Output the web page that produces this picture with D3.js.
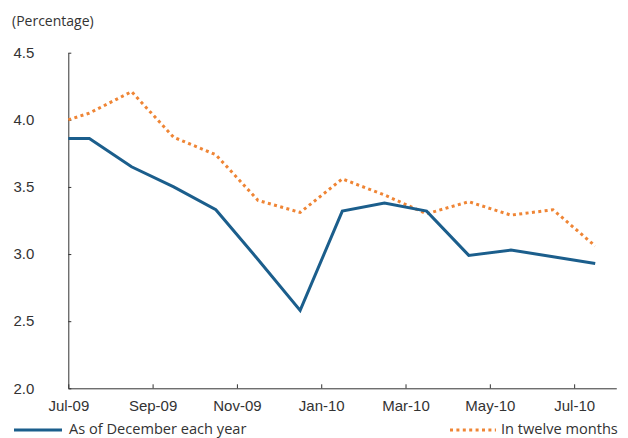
<!DOCTYPE html>
<html lang="en">
<head>
    <meta charset="UTF-8">
    <title>Inflation expectations</title>
    <script src="https://d3js.org/d3.v7.min.js"></script>
    <style>
        body { margin: 0; background: #fff; }
        svg { display: block; font-family: "Open Sans", sans-serif; }
        .axis text { font-size: 15px; fill: #333; }
        .axis path, .axis line { stroke: #333; }
    </style>
</head>
<body>
<svg width="628" height="438"></svg>
<script>
    // month labels (month index 0 = Jul-09), only every second one is shown
    const months = ["Jul-09", "Aug-09", "Sep-09", "Oct-09", "Nov-09", "Dec-09", "Jan-10",
                    "Feb-10", "Mar-10", "Apr-10", "May-10", "Jun-10", "Jul-10", "Aug-10"];
    const tickMonths = [0, 2, 4, 6, 8, 10, 12];
    const yTicks = [2.0, 2.5, 3.0, 3.5, 4.0, 4.5];

    // survey dates, as month offsets from the start of Jul-09
    const surveyMonth = [0, 0.5, 1.5, 2.5, 3.5, 4.5, 5.5, 6.5, 7.5, 8.5, 9.5, 10.5, 11.5, 12.5];
    const asOfDecember = [3.86, 3.86, 3.65, 3.50, 3.33, 2.96, 2.58, 3.32, 3.38, 3.32, 2.99, 3.03, 2.98, 2.93];
    const inTwelveMonths = [4.00, 4.05, 4.21, 3.87, 3.74, 3.40, 3.31, 3.56, 3.44, 3.30, 3.39, 3.29, 3.33, 3.06];

    const svg = d3.select("svg");

    const x = d3.scaleLinear().domain([0, 13]).range([68.3, 616.3]);
    const y = d3.scaleLinear().domain([2, 4.5]).range([388.3, 52.7]);

    svg.append("text")
        .attr("x", 12)
        .attr("y", 26)
        .attr("font-size", 14)
        .attr("fill", "#333")
        .text("(Percentage)");

    svg.append("g")
        .attr("class", "axis")
        .attr("transform", "translate(0," + y(2) + ")")
        .call(d3.axisBottom(x)
            .tickValues(tickMonths)
            .tickFormat(i => months[i])
            .tickSizeInner(-4)
            .tickSizeOuter(0)
            .tickPadding(12));

    svg.append("g")
        .attr("class", "axis")
        .attr("transform", "translate(" + x(0) + ",0)")
        .call(d3.axisLeft(y)
            .tickValues(yTicks)
            .tickFormat(d3.format(".1f"))
            .tickSizeInner(-3)
            .tickSizeOuter(0)
            .tickPadding(34));

    const line = d3.line()
        .x(d => x(d[0]))
        .y(d => y(d[1]));

    svg.append("path")
        .datum(d3.zip(surveyMonth, inTwelveMonths))
        .attr("fill", "none")
        .attr("stroke", "#ef8535")
        .attr("stroke-width", 3)
        .attr("stroke-dasharray", "3,3.4")
        .attr("d", line);

    svg.append("path")
        .datum(d3.zip(surveyMonth, asOfDecember))
        .attr("fill", "none")
        .attr("stroke", "#1b5e8c")
        .attr("stroke-width", 3)
        .attr("stroke-linejoin", "miter")
        .attr("d", line);

    // legend
    const legend = svg.append("g");
    legend.append("line")
        .attr("x1", 14).attr("x2", 62)
        .attr("y1", 430).attr("y2", 430)
        .attr("stroke", "#1b5e8c")
        .attr("stroke-width", 3);
    legend.append("text")
        .attr("x", 69).attr("y", 434)
        .attr("font-size", 14.6)
        .attr("fill", "#333")
        .text("As of December each year");
    legend.append("line")
        .attr("x1", 450).attr("x2", 496)
        .attr("y1", 430).attr("y2", 430)
        .attr("stroke", "#ef8535")
        .attr("stroke-width", 3)
        .attr("stroke-dasharray", "3,3.4");
    legend.append("text")
        .attr("x", 501).attr("y", 434)
        .attr("font-size", 14.6)
        .attr("fill", "#333")
        .text("In twelve months");
</script>
</body>
</html>
